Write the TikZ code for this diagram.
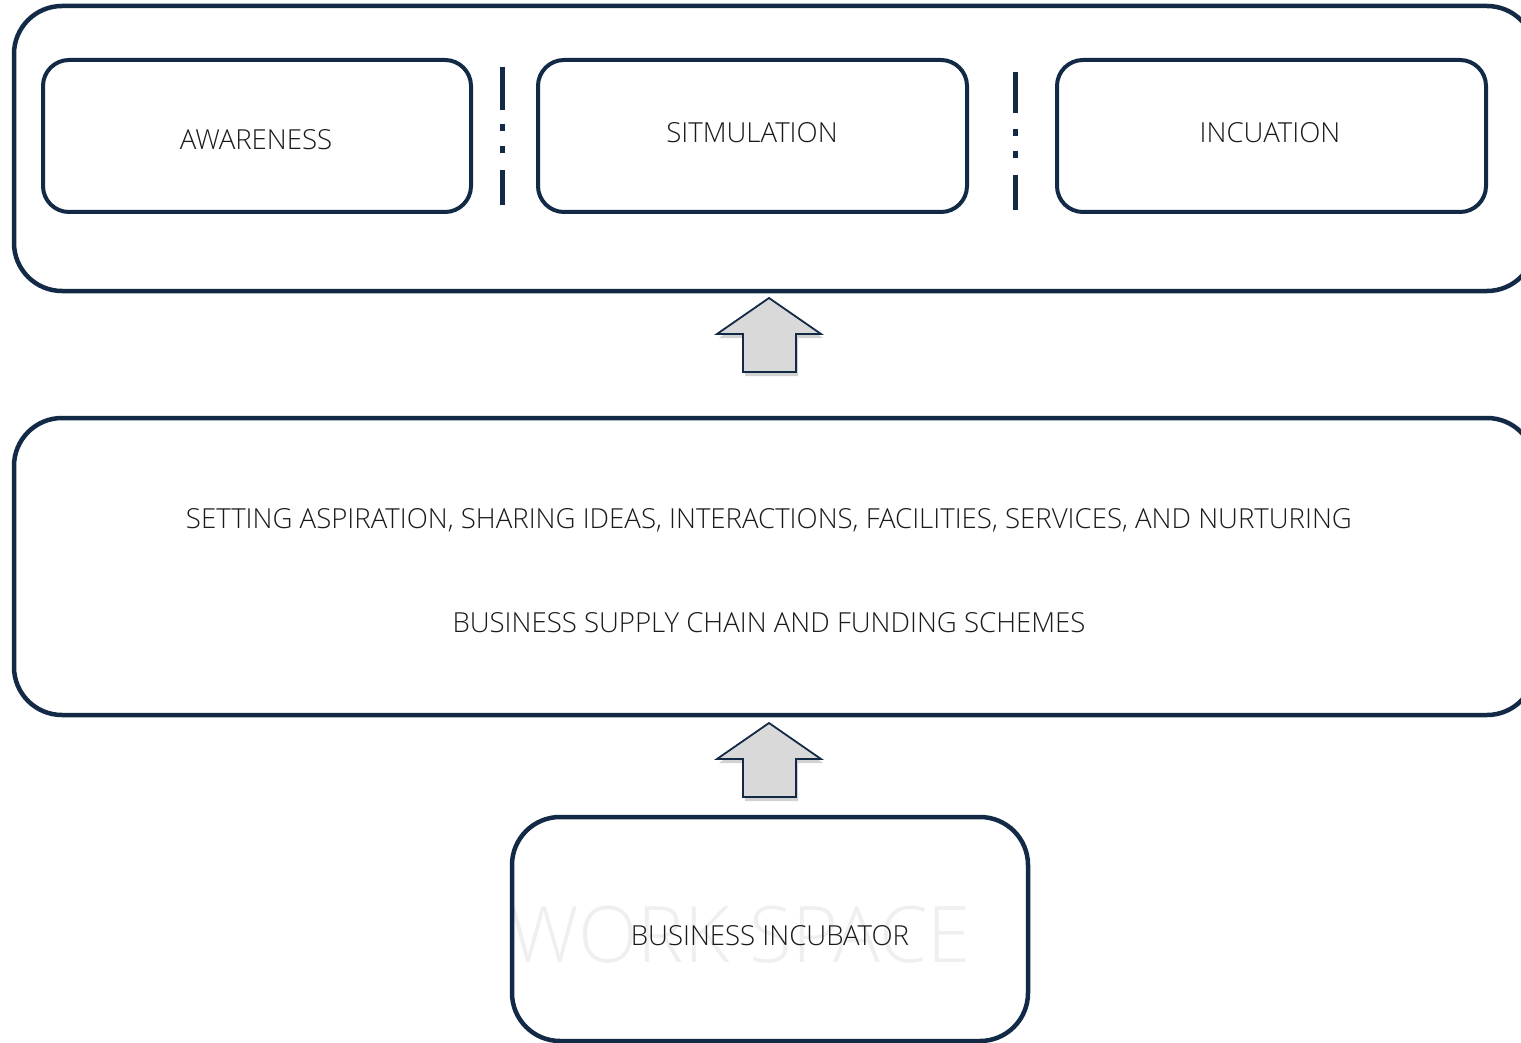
\documentclass[tikz,border=0pt]{standalone}
\usepackage{fontspec}
\setmainfont{Open Sans Light}
\usetikzlibrary{shadows,positioning}
\definecolor{navy}{HTML}{132A46}
\definecolor{txt}{HTML}{1A1A1A}
\definecolor{arrowfill}{HTML}{D9D9D9}
\definecolor{wm}{HTML}{EFEFEF}
\tikzset{
  bigbox/.style={draw=navy, line width=4.5pt, rounded corners=48pt},
  smallbox/.style={draw=navy, line width=4pt, rounded corners=26pt, fill=white},
  lbl/.style={text=txt, font=\fontsize{27.6}{32}\selectfont, inner sep=0pt},
  sepline/.style={draw=navy, line width=5pt},
  uparrow/.style={draw=navy, line width=1.8pt, fill=arrowfill, line join=miter,
     drop shadow={opacity=0.35, shadow xshift=2pt, shadow yshift=-4pt}},
}
\begin{document}
\begin{tikzpicture}[x=1pt,y=-1pt]
\useasboundingbox[fill=white] (0,0) rectangle (1521,1043);
% top container
\node[bigbox, minimum width=1521pt, minimum height=285pt] (top) at (774.5,148.5) {};
\node[smallbox, minimum width=428pt, minimum height=152pt] (aw) at (257,136) {};
\node[smallbox, minimum width=429pt, minimum height=152pt] (st) at (752.5,136) {};
\node[smallbox, minimum width=429pt, minimum height=152pt] (in) at (1271.5,136) {};
\node[lbl] (awt) at (256,140) {AWARENESS};
\node[lbl] (stt) at (752,133) {SITMULATION};
\node[lbl] (int) at (1270,133) {INCUATION};
% separators
\foreach \sx/\a/\b/\c/\d/\e/\f in {502/67/110/124/131/146/153, 1015/72/113/129/136/151/158}{
  \draw[sepline] (\sx,\a) -- (\sx,\b);
  \draw[sepline] (\sx,\c) -- (\sx,\d);
  \draw[sepline] (\sx,\e) -- (\sx,\f);
}
\foreach \sx/\a/\b in {502/170/205, 1015/175/210}{
  \draw[sepline] (\sx,\a) -- (\sx,\b);
}
% middle container
\node[bigbox, minimum width=1521pt, minimum height=297pt] (mid) at (774.5,566.5) {};
\node[lbl] (m1) at (769,520) {SETTING ASPIRATION, SHARING IDEAS, INTERACTIONS, FACILITIES, SERVICES, AND NURTURING};
\node[lbl] (m2) at (769,623) {BUSINESS SUPPLY CHAIN AND FUNDING SCHEMES};
% bottom box
\node[text=wm, font=\fontsize{78}{86}\selectfont, inner sep=0pt] (ws) at (740,935) {WORK SPACE};
\node[bigbox, minimum width=516pt, minimum height=224pt] (bot) at (770,929) {};
\node[lbl] (bt) at (770,936) {BUSINESS INCUBATOR};
% arrows
\coordinate (a1) at (769,298);
\draw[uparrow] (a1) -- (821,334) -- (796,334) -- (796,372) -- (743,372) -- (743,334) -- (717,334) -- cycle;
\coordinate (a2) at (769,723);
\draw[uparrow] (a2) -- (821,759) -- (796,759) -- (796,797) -- (743,797) -- (743,759) -- (717,759) -- cycle;
\end{tikzpicture}
\end{document}
